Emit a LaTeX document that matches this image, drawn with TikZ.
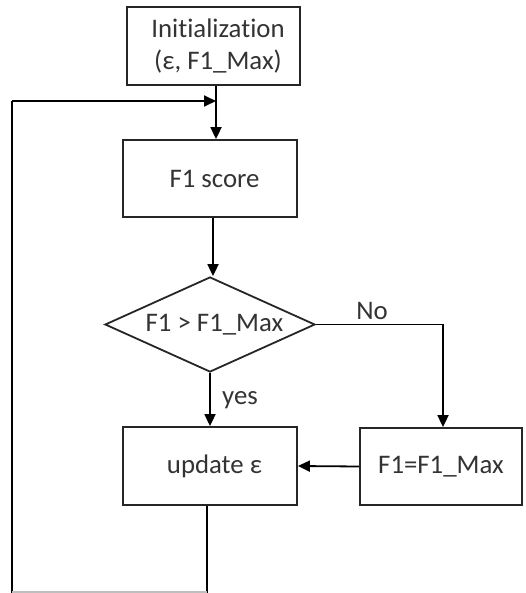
\documentclass[tikz,border=0pt]{standalone}
\usepackage{fontspec}
\setmainfont[Ligatures=NoCommon]{Carlito}
\usetikzlibrary{shapes.geometric,arrows.meta,calc}
\newcommand{\pad}{\hspace*{9pt}}
\begin{document}
\begin{tikzpicture}[x=1pt,y=-1pt,
  every node/.style={font=\fontsize{26.8}{32}\selectfont, text=black!80},
  box/.style={draw=black!85, line width=1.8pt, inner sep=0pt, align=center},
  dia/.style={draw=black!85, line width=1.8pt, shape=diamond, inner sep=0pt, shape aspect=2.21},
  conn/.style={draw=black, line width=1.8pt},
  arr/.style={conn, -{Triangle[length=12pt,width=11pt]}},
  lbl/.style={inner sep=0pt}
]
\useasboundingbox (0,0) rectangle (525,593);
\node[box, minimum width=173pt, minimum height=78pt] (init) at (213.5,46) {\pad Initialization\\\pad(ε, F1\_Max)};
\node[box, minimum width=174pt, minimum height=77pt] (f1) at (210,178.5) {\pad F1 score};
\node[dia, minimum width=210pt, minimum height=95pt] (cmp) at (210,324.5) {\pad F1 > F1\_Max};
\node[box, minimum width=174pt, minimum height=78pt] (upd) at (210,466) {\pad update ε};
\node[box, minimum width=162pt, minimum height=77pt] (set) at (441,466.5) {F1=F1\_Max};
\coordinate (join) at (216,101);
\coordinate (bl) at (12,592);
\coordinate (nocorner) at (443,324.5);
\node[lbl] (no) at (372,311) {No};
\node[lbl] (yes) at (240,400) {yes};
% init -> F1 score
\draw[arr] (init.south -| join) -- (f1.north -| join);
% F1 score -> diamond
\draw[arr] ([xshift=3pt]f1.south) -- ([xshift=3pt]cmp.north);
% diamond -> update (yes)
\draw[arr] (cmp.south) -- (upd.north);
% diamond -> F1=F1_Max (No)
\draw[arr] (cmp.east) -- (nocorner) -- (set.north -| nocorner);
% F1=F1_Max -> update
\draw[arr] (set.west) -- (upd.east);
% loop back
\draw[conn, line width=1.4pt] ([xshift=-3pt]upd.south) -- ([xshift=-3pt]upd.south |- bl) -- (bl) -- (bl |- join);
\draw[arr] (bl |- join) -- (join);
\draw[draw=black!25, line width=1.4pt] ([xshift=-3pt]upd.south |- bl) -- (bl);
\end{tikzpicture}
\end{document}
